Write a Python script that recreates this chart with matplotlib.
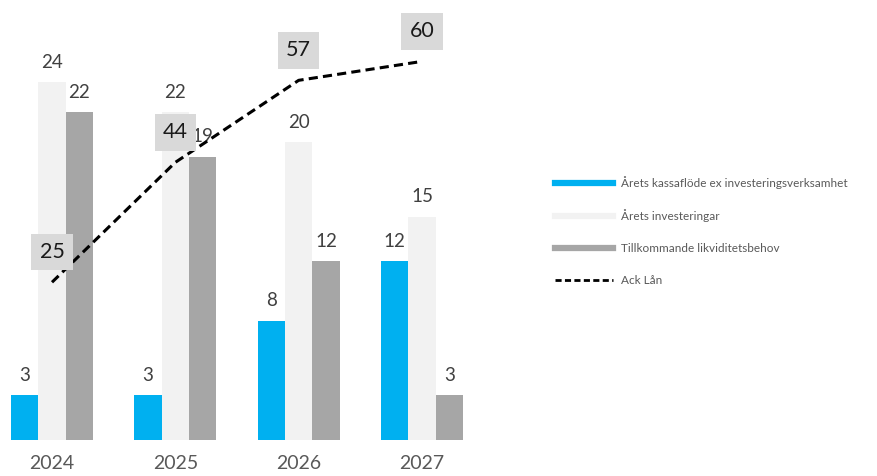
import matplotlib
matplotlib.use("Agg")
import matplotlib.pyplot as plt
from matplotlib.lines import Line2D
import numpy as np

plt.rcParams['font.family'] = ['Lato', 'DejaVu Sans']

years = ["2024", "2025", "2026", "2027"]
kassaflode = [3, 3, 8, 12]          # Årets kassaflöde ex investeringsverksamhet
investeringar = [24, 22, 20, 15]    # Årets investeringar
likviditet = [22, 19, 12, 3]        # Tillkommande likviditetsbehov
ack_lan = [25, 44, 57, 60]          # Ack Lån

series_names = ["Årets kassaflöde ex investeringsverksamhet",
                "Årets investeringar",
                "Tillkommande likviditetsbehov",
                "Ack Lån"]

c_blue = "#00B0F0"
c_light = "#F2F2F2"
c_gray = "#A6A6A6"
c_box = "#D9D9D9"

W, H = 877, 476
fig = plt.figure(figsize=(W / 100, H / 100), dpi=100)

# axes geometry in pixels
left_px, right_px = 0, 484
base_px, top_px = 440, 20
ax = fig.add_axes([left_px / W, (H - base_px) / H,
                   (right_px - left_px) / W, (base_px - top_px) / H])
ax2 = ax.twinx()

x = np.arange(len(years))
bw = 0.22
off = 0.222

for vals, col, dx in [(kassaflode, c_blue, -off),
                      (investeringar, c_light, 0.0),
                      (likviditet, c_gray, off)]:
    ax.bar(x + dx, vals, width=bw, color=col, zorder=2)
    for xi, v in zip(x + dx, vals):
        ax.annotate(f"{v}", (xi, v), xytext=(0, 10.4), textcoords="offset points",
                    ha="center", va="baseline", fontsize=13.5, color="#404040")

ax2.plot(x, ack_lan, color="black", linewidth=2.2, linestyle=(0, (3.0, 1.7)), zorder=3)
for xi, v in zip(x, ack_lan):
    ax2.annotate(f"{v}", (xi, v), xytext=(0, 21.6), textcoords="offset points",
                 ha="center", va="center", fontsize=15.5, color="#1a1a1a",
                 bbox=dict(boxstyle="square,pad=0.38", fc=c_box, ec="none"))

unit_px_primary = 14.9
unit_px_secondary = 6.31
ax.set_ylim(0, (base_px - top_px) / unit_px_primary)
ax2.set_ylim(0, (base_px - top_px) / unit_px_secondary)
ax.set_xlim(-0.4217, 3.503)

ax.set_xticks(x)
ax.set_xticklabels(years, fontsize=14, color="#595959")
ax.tick_params(axis="x", length=0, pad=11)
ax.set_yticks([])
ax2.set_yticks([])
for a in (ax, ax2):
    for s in a.spines.values():
        s.set_visible(False)
ax.set_zorder(1)
ax2.set_zorder(2)
ax.patch.set_visible(False)
ax2.patch.set_visible(False)

handles = [Line2D([], [], color=c_blue, linewidth=4.5),
           Line2D([], [], color=c_light, linewidth=4.5),
           Line2D([], [], color=c_gray, linewidth=4.5),
           Line2D([], [], color="black", linewidth=2.0, linestyle=(0, (2.2, 1.2)))]
fig.legend(handles, series_names, loc="upper left",
           bbox_to_anchor=(555 / W, 1 - 176 / H), frameon=False,
           fontsize=8.5, labelcolor="#595959", handlelength=4.9,
           handletextpad=0.7, labelspacing=1.75, borderpad=0, borderaxespad=0)

fig.savefig("out.png", dpi=100)
